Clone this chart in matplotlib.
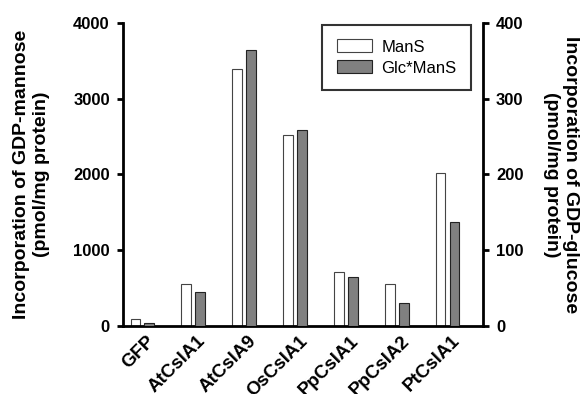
import matplotlib
matplotlib.use("Agg")
import matplotlib.pyplot as plt
import matplotlib.transforms as mtransforms
import numpy as np

plt.rcParams["font.family"] = ["Liberation Sans", "DejaVu Sans"]

# data
strains = ["GFP", "AtCslA1", "AtCslA9", "OsCslA1", "PpCslA1", "PpCslA2", "PtCslA1"]
mans = [97, 549, 3390, 2525, 707, 558, 2015]        # pmol/mg, left axis
glc_mans = [4.5, 45, 364, 259, 65, 30, 137]         # pmol/mg, right axis

fig = plt.figure(figsize=(5.83, 3.94), dpi=100)
ax = fig.add_axes([0.211, 0.1726, 0.617, 0.7694])
ax2 = ax.twinx()

x = np.arange(len(strains))
w = 0.19
off = 0.137

b1 = ax.bar(x - off, mans, width=w, color="white", edgecolor="#444444",
            linewidth=0.8, label="ManS", zorder=2)
b2 = ax2.bar(x + off, glc_mans, width=w, color="#808080", edgecolor="#222222",
             linewidth=0.8, label="Glc*ManS", zorder=2)

ax.set_xlim(-0.38, 6.69)
ax.set_ylim(0, 4000)
ax2.set_ylim(0, 400)
ax.set_yticks([0, 1000, 2000, 3000, 4000])
ax2.set_yticks([0, 100, 200, 300, 400])

for a in (ax, ax2):
    a.spines["top"].set_visible(False)
    for s in ("left", "right", "bottom"):
        a.spines[s].set_linewidth(2.0)
    a.tick_params(axis="y", direction="out", length=4.5, width=2.0, pad=5,
                  labelsize=12)
    for lab in a.get_yticklabels():
        lab.set_fontweight("bold")
ax.spines["right"].set_visible(False)
ax2.spines["left"].set_visible(False)
ax2.spines["bottom"].set_visible(False)

ax.set_xticks(x)
ax.set_xticklabels(strains, rotation=45, ha="right", va="center",
                   rotation_mode="anchor", fontsize=13.5, fontweight="bold")
ax.tick_params(axis="x", length=0, pad=9)
shift = mtransforms.ScaledTranslation(10 / 100, 0, fig.dpi_scale_trans)
for lab in ax.get_xticklabels():
    lab.set_transform(lab.get_transform() + shift)

ax.set_ylabel("Incorporation of GDP-mannose\n(pmol/mg protein)",
              fontsize=14, fontweight="bold", linespacing=1.2)
ax.yaxis.set_label_coords(-0.203, 0.5)

ax2.set_ylabel("Incorporation of GDP-glucose\n(pmol/mg protein)",
               fontsize=14, fontweight="bold", linespacing=1.2,
               rotation=270, va="bottom", rotation_mode="anchor")
ax2.yaxis.set_label_coords(1.167, 0.5)

leg = ax2.legend([b1, b2], ["ManS", "Glc*ManS"], loc="upper right",
                 bbox_to_anchor=(0.967, 0.992), fontsize=12, frameon=True,
                 fancybox=False, handlelength=2.1, handleheight=0.8,
                 labelspacing=0.35, borderpad=0.85, handletextpad=0.6,
                 borderaxespad=0)
leg.get_frame().set_edgecolor("black")
leg.get_frame().set_linewidth(1.5)

fig.savefig("out.png", dpi=100)
